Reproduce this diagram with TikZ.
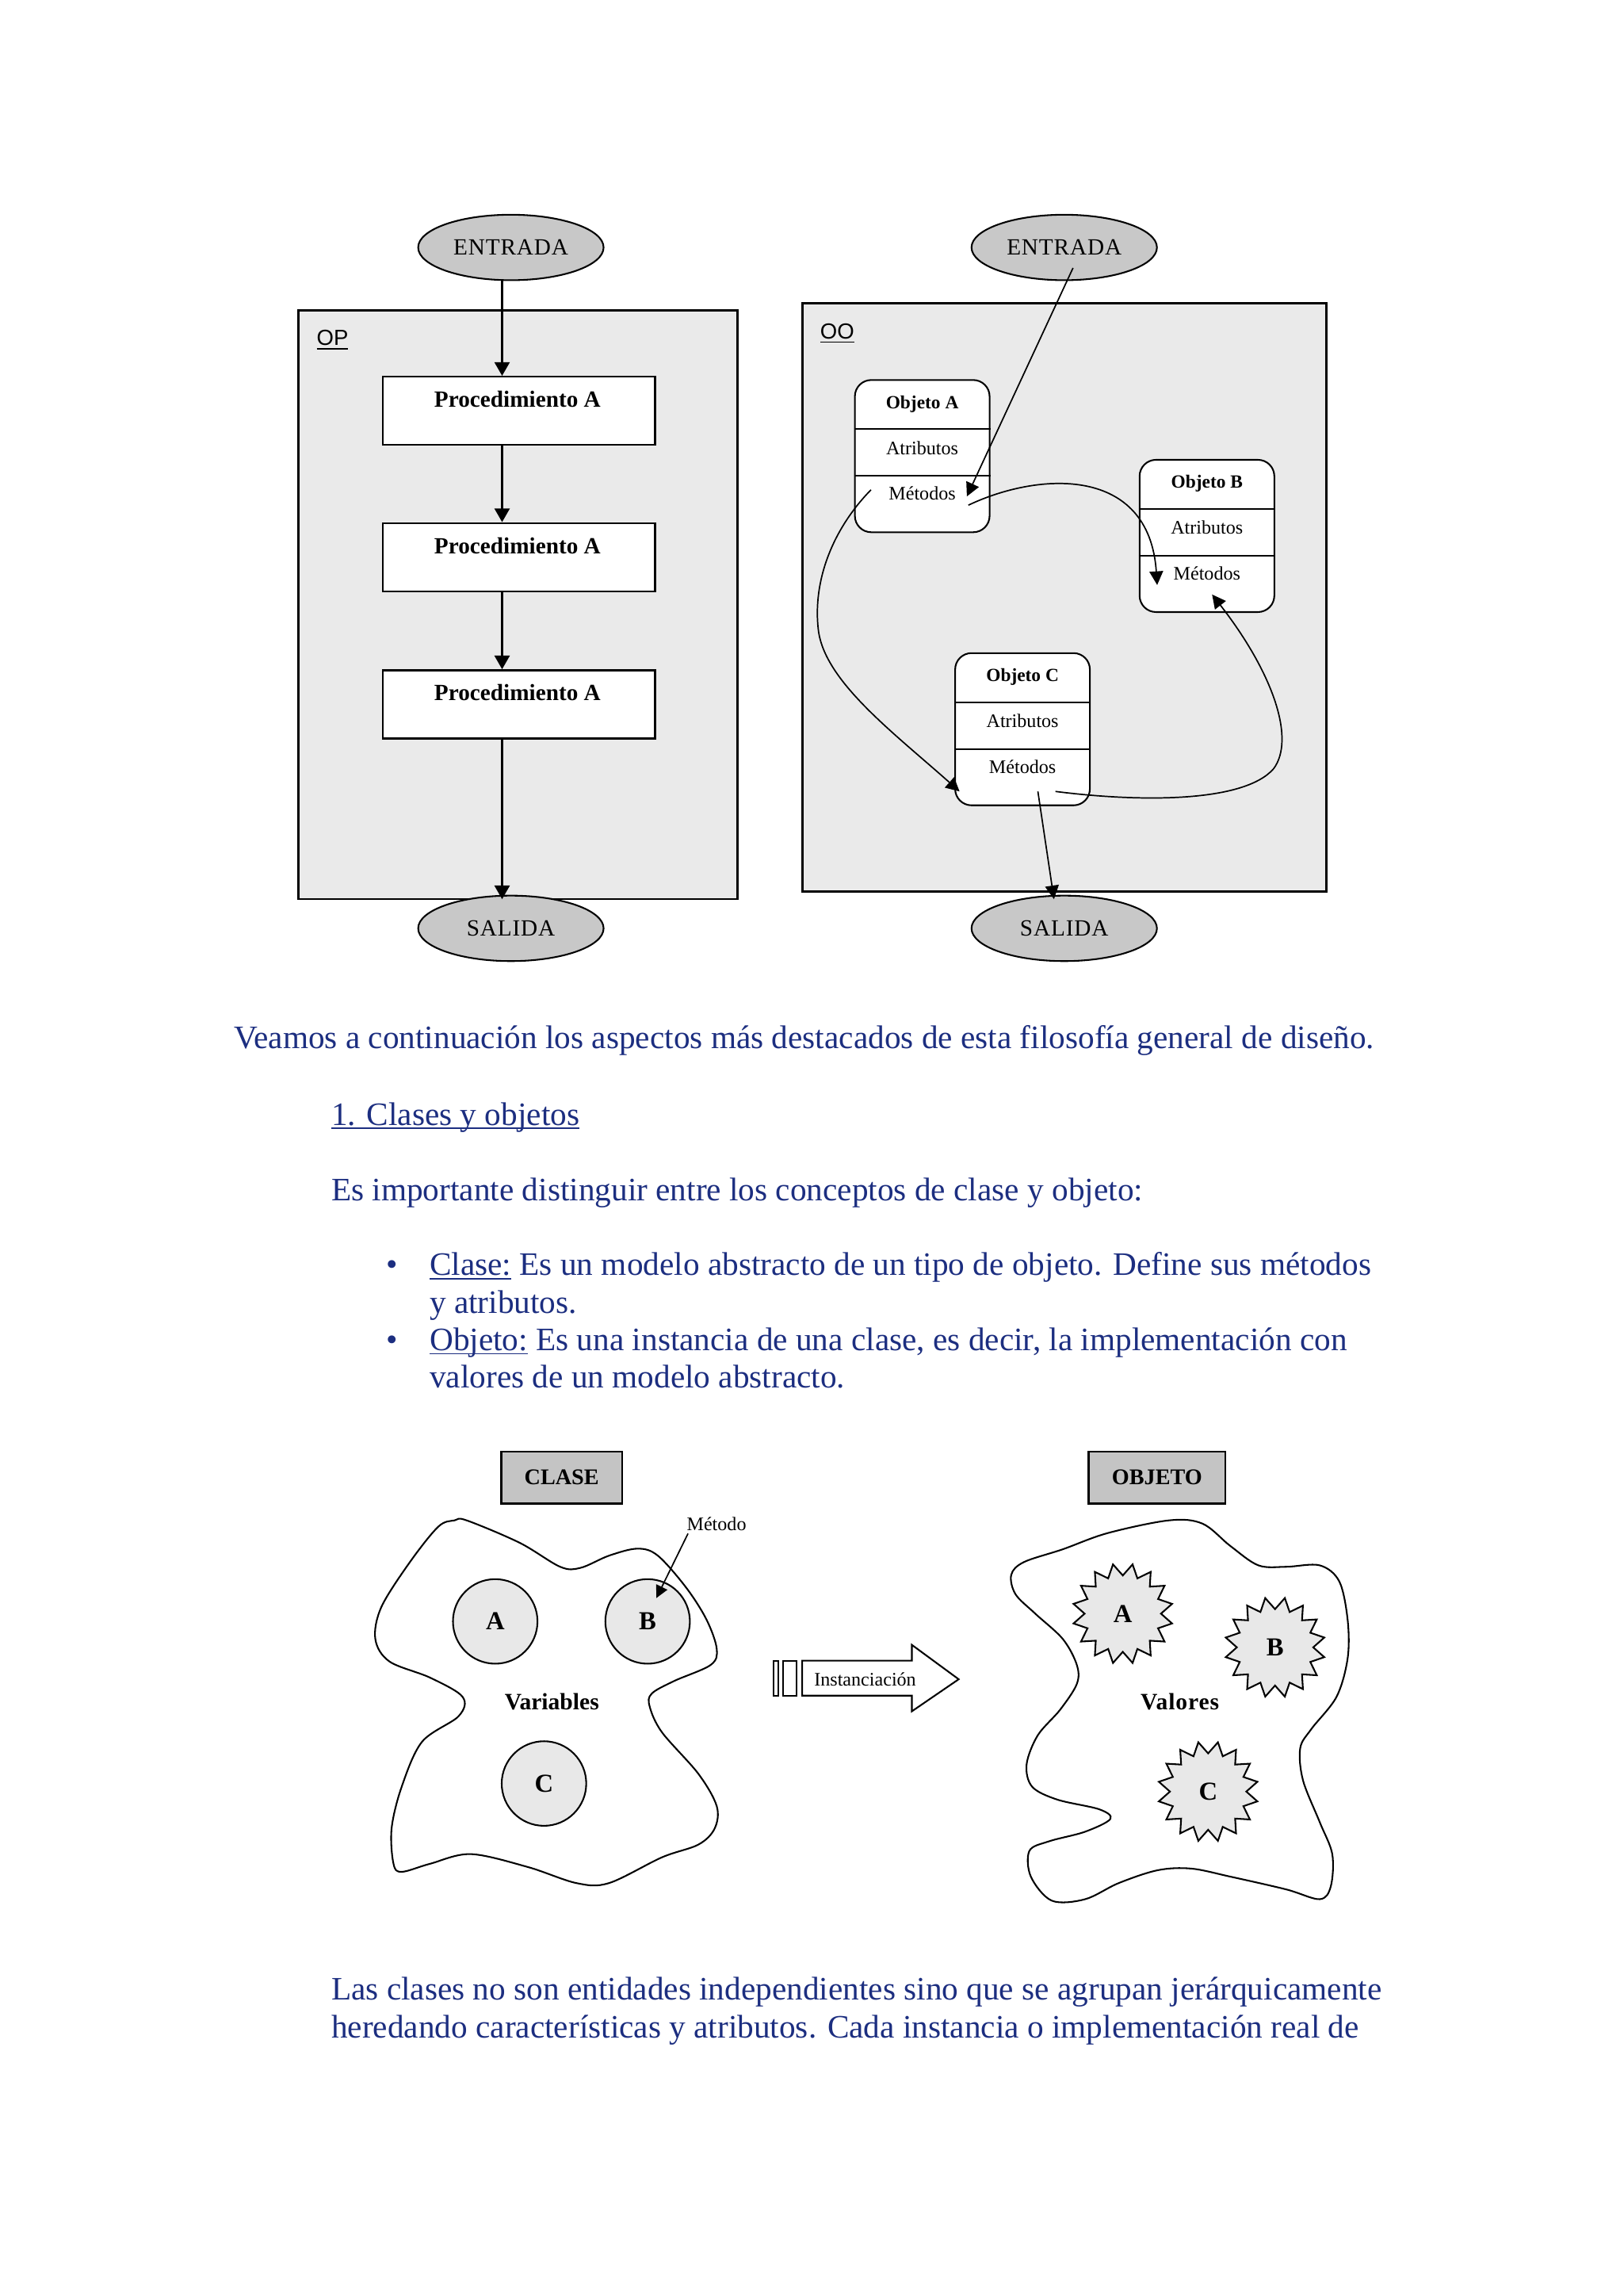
\documentclass[tikz,border=0pt]{standalone}
\usepackage{fontspec}
\setmainfont{Liberation Serif}
\setsansfont{Liberation Sans}
\usetikzlibrary{positioning,arrows.meta,calc,shapes.geometric}
\newfontfamily\spaced[LetterSpace=3]{Liberation Serif}
\newsavebox\ulbox
\newcommand\uln[1]{\sbox\ulbox{#1}\rlap{\rule[-1.4pt]{\wd\ulbox}{0.5pt}}\usebox\ulbox}
\definecolor{navy}{RGB}{28,46,128}
\definecolor{areagray}{RGB}{234,234,234}
\definecolor{iogray}{RGB}{200,200,200}
\definecolor{titlegray}{RGB}{196,196,196}
\definecolor{softgray}{RGB}{232,232,232}
\tikzset{
  areabox/.style={draw,line width=0.8pt,fill=areagray},
  io/.style={ellipse,draw,line width=0.6pt,fill=iogray,minimum width=68pt,minimum height=24pt,inner sep=0pt,font=\fontsize{8.5}{9}\spaced},
  procbox/.style={rectangle,draw,fill=white,line width=0.7pt,minimum width=99.8pt,minimum height=25pt},
  proctext/.style={inner sep=0pt,font=\fontsize{8.5}{9}\selectfont\bfseries},
  objbox/.style={rectangle,rounded corners=6pt,draw,fill=white,line width=0.6pt,minimum width=49.4pt,minimum height=55.8pt},
  objhead/.style={inner sep=0pt,font=\fontsize{6.8}{7}\selectfont\bfseries},
  objtext/.style={inner sep=0pt,font=\fontsize{7}{7}\selectfont},
  tag/.style={anchor=base west,inner sep=0pt,font=\fontsize{8}{9}\sffamily},
  flow/.style={draw,line width=0.8pt,-{Triangle[width=5.5pt,length=5pt]}},
  conn/.style={draw,line width=0.5pt,-{Triangle[width=5pt,length=5pt]}},
  body/.style={anchor=base west,inner sep=0pt,text=navy,font=\fontsize{12}{13.8}\selectfont},
  titlebox/.style={rectangle,draw,line width=0.7pt,fill=titlegray,minimum height=19.1pt,font=\fontsize{8.2}{9}\selectfont\bfseries},
  var/.style={circle,draw,line width=0.6pt,fill=softgray,minimum size=31pt,inner sep=0pt,font=\fontsize{9.5}{10}\selectfont\bfseries},
  val/.style={star,star points=16,star point ratio=0.76,draw,line width=0.6pt,fill=softgray,minimum size=28pt,inner sep=0pt,font=\fontsize{9.5}{10}\selectfont\bfseries},
  lbl/.style={inner sep=0pt,font=\fontsize{8.6}{9}\selectfont\bfseries},
  small/.style={inner sep=1pt,font=\fontsize{7}{8}\selectfont},
  blob/.style={draw,line width=0.6pt,fill=white},
}

\begin{document}
\begin{tikzpicture}[x=0.5368pt,y=-0.5368pt]

\fill[white] (0,0) rectangle (1109,1568);

% programacion por procedimientos
\draw[areabox] (204,212) rectangle (504,614);
\node[tag] (opl) at (216,236) {\uln{OP}};
\node[io] (entL) at (349,169) {ENTRADA};
\node[io] (salL) at (349,634) {SALIDA};
\node[procbox] (p1) at (354.5,280.6) {};
\node[procbox] (p2) at (354.5,380.5) {};
\node[procbox] (p3) at (354.5,481) {};
\foreach \p in {p1,p2,p3}
  \node[proctext] (\p t) at ($(\p.north)+(-1,16)$) {Procedimiento A};
\coordinate (ax) at (343,0);
\draw[flow] (entL.south -| ax) -- (p1.north -| ax);
\draw[flow] (p1.south -| ax) -- (p2.north -| ax);
\draw[flow] (p2.south -| ax) -- (p3.north -| ax);
\draw[flow] (p3.south -| ax) -- ($(salL.north -| ax)+(0,3)$);

% orientacion a objetos
\draw[areabox] (548,207) rectangle (906,609);
\node[tag] (ool) at (560,231.5) {\uln{OO}};
\node[io] (entR) at (727,169) {ENTRADA};
\node[io] (salR) at (727,634) {SALIDA};
\node[objbox] (objA) at (630,311.5) {};
\node[objbox] (objB) at (824.5,366) {};
\node[objbox] (objC) at (698.5,498) {};
\foreach \o/\n in {objA/A,objB/B,objC/C}{
  \draw[line width=0.6pt] ($(\o.north west)+(0,34)$) -- ($(\o.north east)+(0,34)$);
  \draw[line width=0.6pt] ($(\o.north west)+(0,66)$) -- ($(\o.north east)+(0,66)$);
  \node[objhead] (\o h) at ($(\o.north)+(0,17)$) {Objeto \n};
  \node[objtext] (\o a) at ($(\o.north)+(0,47)$) {Atributos};
  \node[objtext] (\o m) at ($(\o.north)+(0,78)$) {Métodos};
}
\draw[conn] ($(entR.center)+(6,14)$) -- ($(objA.center)+(30.5,27.5)$);
\draw[conn] ($(objA.center)+(31.5,33.5)$) .. controls (710,322) and (785,318) .. ($(objB.center)+(-34,33.5)$);
\draw[conn] ($(objA.center)+(-35,23)$) .. controls (570,360) and (555,395) .. (559,430)
  .. controls (563,465) and (610,500) .. ($(objC.center)+(-43,42.5)$);
\draw[conn] ($(objC.center)+(22.5,42.5)$) .. controls (780,548) and (850,548) .. (870,525)
  .. controls (885,505) and (870,460) .. ($(objB.center)+(3.5,40)$);
\draw[conn] ($(objC.center)+(10.5,42.5)$) -- ($(salR.north)+(-7,3)$);

% texto
\node[body] (intro) at (159.4,716) {Veamos a continuación los aspectos más destacados de esta filosofía general de diseño.};
\node[body] (sec1) at (226,768.5) {\uln{1. Clases y objetos}};
\node[body] (lead) at (226,820) {Es importante distinguir entre los conceptos de clase y objeto:};
\node[body] (b1) at (263.5,871) {\textbullet};
\node[body] (it1a) at (293.2,871) {\uln{Clase:} Es un modelo abstracto de un tipo de objeto. Define sus métodos};
\node[body] (it1b) at (293.2,896.7) {y atributos.};
\node[body] (b2) at (263.5,922.3) {\textbullet};
\node[body] (it2a) at (293.2,922.3) {\uln{Objeto:} Es una instancia de una clase, es decir, la implementación con};
\node[body] (it2b) at (293.2,948) {valores de un modelo abstracto.};
\node[body] (last1) at (226,1366) {Las clases no son entidades independientes sino que se agrupan jerárquicamente};
\node[body] (last2) at (226,1392) {heredando características y atributos. Cada instancia o implementación real de};

% clase
\node[titlebox,minimum width=44.3pt] (clase) at (383.7,1009) {CLASE};
\draw[blob] plot[smooth cycle,tension=0.55] coordinates {
  (318.8,1038.3) (355,1053.6) (382.7,1070) (396.6,1070.7) (416,1062.4) (435.5,1057.6)
  (449.4,1062.4) (468.8,1084.3) (482.7,1106.2) (489.6,1126) (485.5,1137) (460.5,1148)
  (445.2,1156.6) (443.8,1165.4) (452.2,1183) (477.1,1211.4) (489.6,1233.4) (488.2,1248.7)
  (477.1,1259.7) (452.2,1268.4) (416,1286) (393.8,1286) (360.5,1275) (321.6,1266.2)
  (293.8,1272.8) (274.4,1278.3) (268.8,1272.8) (267.5,1248.7) (274.4,1220.2) (288.3,1189.5)
  (313.3,1172) (316,1158.8) (293.8,1145.7) (266.1,1134.7) (256.4,1119.4) (260.5,1097.5)
  (280,1066.8) (299.4,1042.6) (310.5,1038.3)};
\node[var] (vA) at (338.3,1107.3) {A};
\node[var] (vB) at (442.4,1107.3) {B};
\node[var] (vC) at (371.6,1218) {C};
\node[lbl] (vars) at (377,1162) {Variables};
\node[small] (met) at (489.5,1040.5) {Método};
\draw[line width=0.5pt,-{Triangle[width=4.5pt,length=4.5pt]}] ($(met.south west)+(3,0)$) -- ($(vB.center)+(6,-16)$);

% instanciacion
\draw[line width=0.6pt] (528.5,1134.1) rectangle (531.8,1158);
\draw[line width=0.6pt] (534.9,1134.1) rectangle (544.3,1158);
\draw[line width=0.6pt] (548,1134.1) -- (622.9,1134.1) -- (622.9,1123.3) -- (654.9,1146.8)
  -- (622.9,1168.7) -- (622.9,1158) -- (548,1158) -- cycle;
\node[small,inner sep=0pt] (inst) at (591,1147) {Instanciación};

% objeto
\node[titlebox,minimum width=50.2pt] (objeto) at (790.4,1009) {OBJETO};
\draw[blob] plot[smooth cycle,tension=0.55] coordinates {
  (690.8,1075.5) (699.4,1066.8) (726.1,1058) (756.6,1047) (798.5,1038.3) (821.4,1040.5)
  (840.5,1055.8) (859.6,1069) (878.6,1070) (901.5,1069) (914.9,1080) (920.6,1106.2)
  (920.6,1132.5) (913,1158.8) (895.8,1180.8) (888.2,1193.9) (890.1,1215.8) (901.5,1244.3)
  (910.1,1266.2) (909.1,1288.2) (901.5,1297) (878.6,1290.3) (840.5,1281.6) (813.8,1276.1)
  (790.9,1277.2) (764.2,1286) (741.3,1297) (718.5,1298) (704.2,1281.6) (703.2,1264)
  (716.5,1257.5) (741.3,1250.9) (758.5,1242.2) (750.9,1235.6) (722.3,1229) (705.1,1220.2)
  (701.3,1204.9) (708.9,1185.1) (724.2,1167.6) (735.6,1150) (735.6,1137) (726.1,1119.4)
  (707,1101.8) (693.7,1088.7)};
\node[val] (sA) at (767,1102) {A};
\node[val] (sB) at (871,1125) {B};
\node[val] (sC) at (825.3,1223.5) {C};
\node[lbl,font=\fontsize{8.6}{9}\spaced\bfseries] (vals) at (806,1162) {Valores};

\end{tikzpicture}
\end{document}
